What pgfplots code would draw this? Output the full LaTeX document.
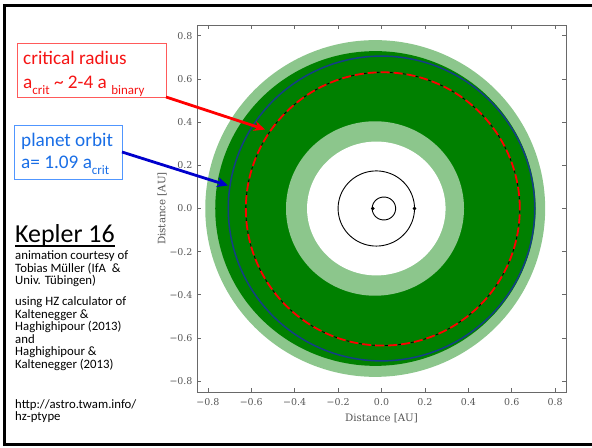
\documentclass[border=0pt]{standalone}
\usepackage{pgfplots}
\pgfplotsset{compat=1.18}
\usetikzlibrary{arrows.meta}
\usepackage{fontspec}
\setmainfont{Carlito}
\newfontfamily\axisfont{DejaVu Serif}

\definecolor{hzlight}{RGB}{140,198,140}
\definecolor{hzdark}{RGB}{0,128,0}
\definecolor{orbitblue}{RGB}{20,62,135}
\definecolor{spine}{RGB}{105,105,105}
\definecolor{ticktext}{RGB}{85,85,85}
\definecolor{boxred}{RGB}{255,90,90}
\definecolor{txtred}{RGB}{245,20,20}
\definecolor{boxblue}{RGB}{80,150,255}
\definecolor{txtblue}{RGB}{25,110,230}

\newcommand\sub[2]{\raisebox{-0.28em}{\fontsize{#1}{#1}\selectfont #2}}

\begin{document}
\begin{tikzpicture}[x=1bp,y=1bp]
\path[use as bounding box] (0,0) rectangle (592,448);

% slide frame
\draw[line width=3.5bp] (592,442.5) -- (4.5,442.5) -- (4.5,3.5) -- (592,3.5);

\begin{axis}[
  at={(197bp,56bp)}, anchor=south west,
  scale only axis, width=369bp, height=367bp,
  xmin=-0.85, xmax=0.85, ymin=-0.85, ymax=0.85,
  axis line style={spine, line width=0.9bp},
  tick style={spine, line width=0.7bp},
  major tick length=4bp,
  tick align=inside,
  xtick={-0.8,-0.6,-0.4,-0.2,0,0.2,0.4,0.6,0.8},
  ytick={-0.8,-0.6,-0.4,-0.2,0,0.2,0.4,0.6,0.8},
  xticklabels={−0.8,−0.6,−0.4,−0.2,0.0,0.2,0.4,0.6,0.8},
  yticklabels={−0.8,−0.6,−0.4,−0.2,0.0,0.2,0.4,0.6,0.8},
  ticklabel style={font=\axisfont\fontsize{9.5}{11}\selectfont, text=ticktext},
  xticklabel style={yshift=-3bp},
  yticklabel style={xshift=-1bp},
  xlabel={Distance [AU]}, ylabel={Distance [AU]},
  label style={font=\axisfont\fontsize{10.3}{12}\selectfont, text=ticktext},
  xlabel style={yshift=-1bp},
  ylabel style={yshift=-4bp},
  clip=true,
  variable=\t, domain=0:360, samples=241,
]
% habitable zone: outer light band, dark core, inner light band, cleared centre
\addplot[draw=none, fill=hzlight] ({-0.029+0.783*cos(t)}, {0.780*sin(t)});
\addplot[draw=none, fill=hzdark]  ({-0.028+0.738*cos(t)}, {0.729*sin(t)});
\addplot[draw=none, fill=hzlight] ({-0.030+0.410*cos(t)}, {0.404*sin(t)});
\addplot[draw=none, fill=white]   ({-0.024+0.319*cos(t)}, {0.310*sin(t)});

% critical radius
\addplot[black, line width=0.8bp, dash pattern=on 3bp off 10bp, dash phase=-10bp]
  ({0.006+0.631*cos(t)}, {-0.002+0.633*sin(t)});
\addplot[red, line width=1.8bp, dash pattern=on 9bp off 4bp]
  ({0.006+0.631*cos(t)}, {-0.002+0.633*sin(t)});

% planet orbit
\addplot[orbitblue, line width=1.5bp] ({0.706*cos(t)}, {0.706*sin(t)});

% binary star orbits
\addplot[black, line width=0.9bp] ({-0.024+0.176*cos(t)}, {0.174*sin(t)});
\addplot[black, line width=0.9bp] ({0.011+0.054*cos(t)}, {0.053*sin(t)});
\addplot[only marks, mark=*, mark size=1.6bp, black] coordinates {(-0.040,0) (0.152,0)};
\end{axis}

% annotation boxes and arrows
\draw[boxred, line width=0.8bp] (17,405) rectangle (166,351);
\node[anchor=base west, inner sep=0, text=txtred, font=\fontsize{19.3}{20}\selectfont] at (23,383) {critical radius};
\node[anchor=base west, inner sep=0, text=txtred, font=\fontsize{19.3}{20}\selectfont] at (23,359) {a\sub{13}{crit} \textasciitilde{} 2-4 a \sub{13}{binary}};
\draw[red, line width=2.8bp, -{Stealth[length=11bp,width=10bp]}] (166,351) -- (265,318.5);

\draw[boxblue, line width=0.8bp] (14,323) rectangle (122,269);
\node[anchor=base west, inner sep=0, text=txtblue, font=\fontsize{19.3}{20}\selectfont] at (21,301) {planet orbit};
\node[anchor=base west, inner sep=0, text=txtblue, font=\fontsize{19.3}{20}\selectfont] at (21,279) {a= 1.09 a\sub{13}{crit}};
\draw[blue!80!black, line width=2.8bp, -{Stealth[length=11bp,width=10bp]}] (122,296) -- (228,262.5);

% credits
\node[anchor=base west, inner sep=0, font=\fontsize{26}{28}\selectfont] (k) at (15,205) {Kepler 16};
\draw[line width=1.3bp] (15,202) -- (k.base east |- 0,202);
\begin{scope}[every node/.style={anchor=base west, inner sep=0, font=\fontsize{12.8}{13}\selectfont}]
\node at (15,188) {animation courtesy of};
\node at (15,175.5) {Tobias Müller (IfA\ \ \&};
\node at (15,163) {Univ. Tübingen)};
\node at (15,142) {using HZ calculator of};
\node at (15,129.5) {Kaltenegger \&};
\node at (15,117) {Haghighipour (2013)};
\node at (15,104.5) {and};
\node at (15,92) {Haghighipour \&};
\node at (15,79.5) {Kaltenegger (2013)};
\node at (15,39) {http://astro.twam.info/};
\node at (15,27) {hz-ptype};
\end{scope}
\end{tikzpicture}
\end{document}
